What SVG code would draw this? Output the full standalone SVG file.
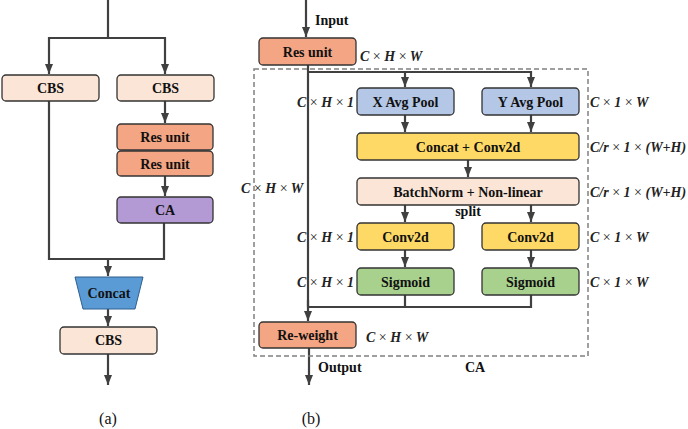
<svg xmlns="http://www.w3.org/2000/svg" width="688" height="429" viewBox="0 0 688 429" font-family="'Liberation Serif', 'Times New Roman', serif">
<defs>
<marker id="ah" markerUnits="userSpaceOnUse" markerWidth="10" markerHeight="10" viewBox="0 0 10 10" refX="10" refY="5" orient="auto">
<path d="M0,1 L10,5 L0,9 Z" fill="#404040"/>
</marker>
<style>
text{font-family:'Liberation Serif','Times New Roman',serif}
.ln{fill:none;stroke:#404040;stroke-width:2.2}
.ar{fill:none;stroke:#404040;stroke-width:2.2;marker-end:url(#ah)}
.bx{stroke:#333;stroke-width:1.3}
.t{font-weight:bold;font-size:14px;fill:#111;text-anchor:middle}
.d{font-style:italic;font-weight:bold;font-size:14px;fill:#222}
.x{font-style:normal;font-weight:normal}
.cap{font-size:16px;fill:#111;text-anchor:middle}
.cbs{fill:#fbe5d6}.res{fill:#f4a583}.ca{fill:#b39ad5}.pool{fill:#b4c7e7}.yel{fill:#ffd966}.grn{fill:#a9d18e}
</style>
</defs>

<g id="connectors">
<path class="ln" d="M108,0 V38"/>
<path class="ln" d="M49,38 H165"/>
<path class="ar" d="M49,37 V74"/>
<path class="ar" d="M165,37 V74"/>
<path class="ar" d="M165,100 V123"/>
<path class="ar" d="M165,176 V196"/>
<path class="ln" d="M49,100 V259 H164 V223"/>
<path class="ar" d="M108,259 V276"/>
<path class="ar" d="M108,309 V326"/>
<path class="ar" d="M108,354 V385"/>
<path class="ar" d="M306,0 V37"/>
<path class="ln" d="M308,65 V307"/>
<path class="ar" d="M308,300 V321"/>
<path class="ln" d="M308,72 H531"/>
<path class="ar" d="M405,71 V87"/>
<path class="ar" d="M531,71 V87"/>
<path class="ar" d="M405,115 V132"/>
<path class="ar" d="M531,115 V132"/>
<path class="ar" d="M468,160 V177"/>
<path class="ar" d="M405,205 V222"/>
<path class="ar" d="M531,205 V222"/>
<path class="ar" d="M405,250 V267"/>
<path class="ar" d="M531,250 V267"/>
<path class="ln" d="M405,295 V307 M531,295 V307 H308"/>
<path class="ar" d="M309,348 V385"/>
<rect x="254" y="69" width="334" height="287" fill="none" stroke="#808080" stroke-width="1.5" stroke-dasharray="5,3"/>
</g>

<g id="a-cbs1"><rect class="bx cbs" x="2" y="75" width="97" height="26" rx="4"/><text class="t" x="50.5" y="93">CBS</text></g>
<g id="a-cbs2"><rect class="bx cbs" x="117" y="75" width="97" height="26" rx="4"/><text class="t" x="165.5" y="93">CBS</text></g>
<g id="a-res1"><rect class="bx res" x="117" y="124" width="96" height="26" rx="4"/><text class="t" x="165" y="142">Res unit</text></g>
<g id="a-res2"><rect class="bx res" x="117" y="151" width="96" height="25" rx="4"/><text class="t" x="165" y="169">Res unit</text></g>
<g id="a-ca"><rect class="bx ca" x="117" y="197" width="96" height="26" rx="4"/><text class="t" x="165" y="215">CA</text></g>
<g id="a-concat"><path d="M75,277 H143 L135,309 H83 Z" fill="#5b9bd5" stroke="#2e5f8f" stroke-width="1"/><text class="t" x="109" y="298">Concat</text></g>
<g id="a-cbs3"><rect class="bx cbs" x="60" y="327" width="97" height="27" rx="4"/><text class="t" x="108.5" y="345">CBS</text></g>
<text class="cap" x="108" y="424">(a)</text>

<g id="b-res"><rect class="bx res" x="259" y="38" width="97" height="27" rx="4"/><text class="t" x="307.5" y="57">Res unit</text></g>
<g id="b-xpool"><rect class="bx pool" x="357" y="88" width="97" height="27" rx="4"/><text class="t" x="405.5" y="107">X Avg Pool</text></g>
<g id="b-ypool"><rect class="bx pool" x="482" y="88" width="97" height="27" rx="4"/><text class="t" x="530.5" y="107">Y Avg Pool</text></g>
<g id="b-concat"><rect class="bx yel" x="357" y="133" width="222" height="27" rx="4"/><text class="t" x="468" y="152">Concat + Conv2d</text></g>
<g id="b-bn"><rect class="bx cbs" x="357" y="178" width="222" height="27" rx="4"/><text class="t" x="468" y="197">BatchNorm + Non-linear</text></g>
<g id="b-conv1"><rect class="bx yel" x="357" y="223" width="97" height="27" rx="4"/><text class="t" x="405.5" y="242">Conv2d</text></g>
<g id="b-conv2"><rect class="bx yel" x="482" y="223" width="97" height="27" rx="4"/><text class="t" x="530.5" y="242">Conv2d</text></g>
<g id="b-sig1"><rect class="bx grn" x="357" y="268" width="97" height="27" rx="4"/><text class="t" x="405.5" y="287">Sigmoid</text></g>
<g id="b-sig2"><rect class="bx grn" x="482" y="268" width="97" height="27" rx="4"/><text class="t" x="530.5" y="287">Sigmoid</text></g>
<g id="b-reweight"><rect class="bx res" x="259" y="322" width="97" height="26" rx="4"/><text class="t" x="307.5" y="340">Re-weight</text></g>

<g id="labels">
<text class="t" x="315" y="25" style="text-anchor:start">Input</text>
<text class="t" x="318" y="372" style="text-anchor:start">Output</text>
<text class="t" x="465" y="372" style="text-anchor:start">CA</text>
<text class="t" x="468" y="216">split</text>
<text class="d" x="360" y="61">C <tspan class="x">×</tspan> H <tspan class="x">×</tspan> W</text>
<text class="d" x="366" y="342">C <tspan class="x">×</tspan> H <tspan class="x">×</tspan> W</text>
<text class="d" x="241" y="193">C <tspan class="x">×</tspan> H <tspan class="x">×</tspan> W</text>
<text class="d" x="297" y="107">C <tspan class="x">×</tspan> H <tspan class="x">×</tspan> 1</text>
<text class="d" x="297" y="242">C <tspan class="x">×</tspan> H <tspan class="x">×</tspan> 1</text>
<text class="d" x="297" y="287">C <tspan class="x">×</tspan> H <tspan class="x">×</tspan> 1</text>
<text class="d" x="590" y="107">C <tspan class="x">×</tspan> 1 <tspan class="x">×</tspan> W</text>
<text class="d" x="590" y="242">C <tspan class="x">×</tspan> 1 <tspan class="x">×</tspan> W</text>
<text class="d" x="590" y="287">C <tspan class="x">×</tspan> 1 <tspan class="x">×</tspan> W</text>
<text class="d" x="590" y="152">C/r <tspan class="x">×</tspan> 1 <tspan class="x">×</tspan> (W+H)</text>
<text class="d" x="590" y="197">C/r <tspan class="x">×</tspan> 1 <tspan class="x">×</tspan> (W+H)</text>
</g>
<text class="cap" x="311" y="424">(b)</text>
</svg>
